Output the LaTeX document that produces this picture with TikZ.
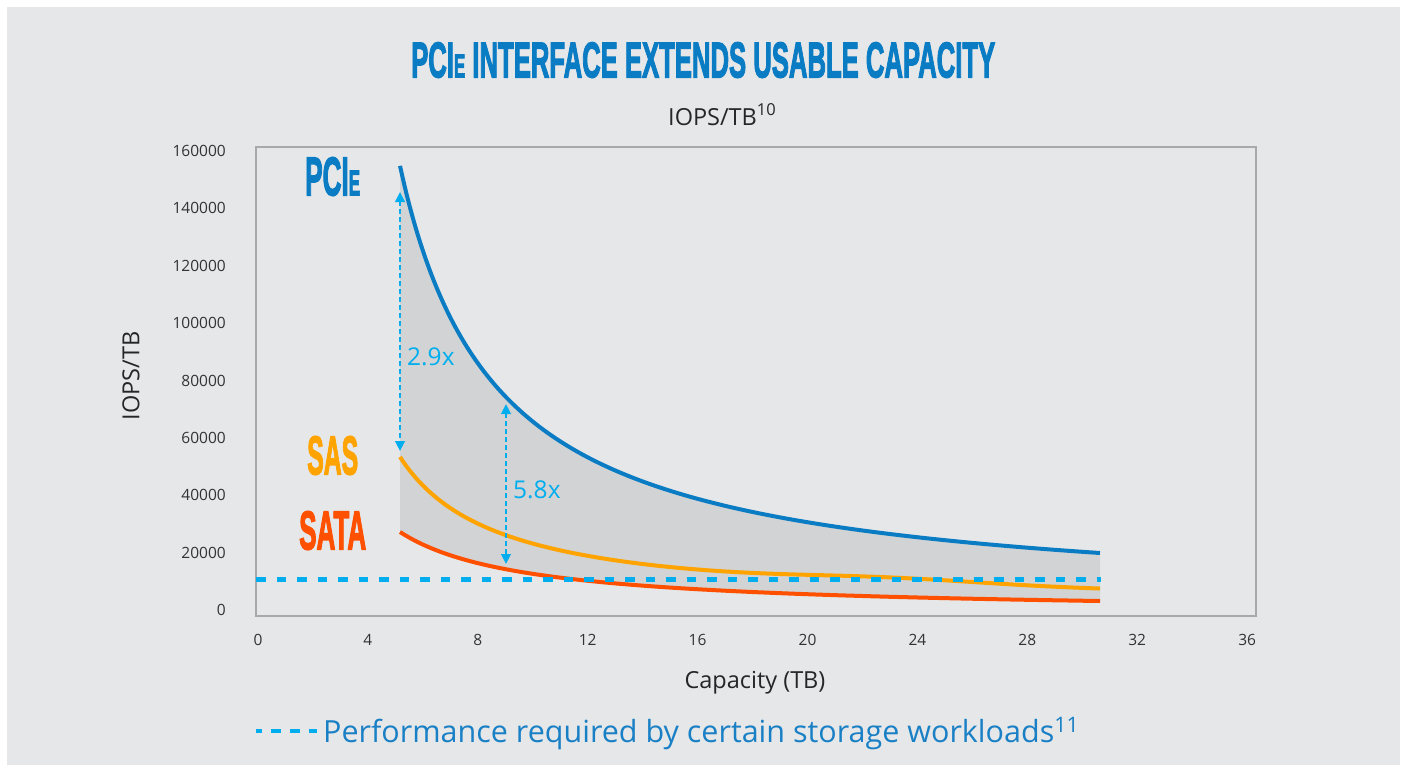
\documentclass[tikz,border=0pt]{standalone}
\usepackage{fontspec}
\setmainfont{Open Sans}
\newfontfamily\titlefont{Liberation Sans}[BoldFeatures={FakeBold=3}]
\usetikzlibrary{arrows.meta}
\definecolor{bg}{HTML}{E6E7E8}
\definecolor{framecol}{HTML}{A7A9AC}
\definecolor{pciecol}{HTML}{0A7CC4}
\definecolor{sascol}{HTML}{FFA300}
\definecolor{satacol}{HTML}{FF5000}
\definecolor{reqcol}{HTML}{00AEEF}
\definecolor{shadecol}{HTML}{D1D3D4}
\definecolor{tickcol}{HTML}{333333}
\definecolor{legcol}{HTML}{1A80C6}
\tikzset{
  declare function={
    capf(\t)=(\t-258)/27.47;
    pcief(\t)=613-1533.8/(capf(\t)-1.684)-7.05;
    sasf(\t)=613-536.6/(capf(\t)-1.604)-5.53-5*exp(-((capf(\t)-23)/5)^2);
    sataf(\t)=613-371.7/(capf(\t)-0.602)+0.37;
  },
  ticklabel/.style={font=\fontsize{15.5}{18}\selectfont, text=tickcol, inner sep=0pt},
  axistitle/.style={font=\fontsize{23.5}{28}\selectfont, text=black!85, inner sep=0pt},
  serieslabel/.style={inner sep=0pt, anchor=south west},
  curveline/.style={line width=4pt},
  reqline/.style={reqcol, line width=5pt, dash pattern=on 9.5pt off 11pt},
  legdash/.style={reqcol, line width=4.5pt, dash pattern=on 10pt off 9pt, dash phase=4pt},
  ratioarrow/.style={reqcol, line width=2.5pt, dash pattern=on 5pt off 3pt,
    {Triangle[width=9.5pt,length=10pt]}-{Triangle[width=9.5pt,length=10pt]}},
  ratiolabel/.style={font=\fontsize{24.5}{28}\selectfont, text=reqcol, inner sep=0pt, anchor=base west},
}
\begin{document}
\begin{tikzpicture}[x=1pt,y=-1pt]
\useasboundingbox (0,0) rectangle (1405,765);
\fill[white] (0,0) rectangle (1405,765);
\fill[bg] (7,7) rectangle (1400,765);

% title
\node[inner sep=0pt, anchor=south west, text=pciecol] (title) at (411,78)
  {\resizebox{584pt}{35pt}{\titlefont\bfseries PCI{\fontsize{6.6}{7}\selectfont E} INTERFACE EXTENDS USABLE CAPACITY}};
\node[axistitle, anchor=base west] (subtitle) at (668,125) {IOPS/TB\textsuperscript{10}};

% shaded area between PCIe and SATA
\fill[shadecol] plot[domain=400:1100, samples=141, variable=\t] ({\t},{pcief(\t)})
  -- plot[domain=1100:400, samples=141, variable=\t] ({\t},{sataf(\t)}) -- cycle;

% frame
\draw[framecol, line width=1.5pt] (256,147) rectangle (1256,616);

% y tick labels
\foreach \v [count=\i from 0] in {160000,140000,120000,100000,80000,60000,40000,20000,0}
  \node[ticklabel, anchor=east] (ytick\i) at (226,151+57.4*\i) {\v};
% x tick labels
\foreach \v [count=\i from 0] in {0,4,8,12,16,20,24,28,32,36}
  \node[ticklabel, anchor=center] (xtick\i) at (258+109.9*\i,640) {\v};

\node[axistitle, rotate=90, anchor=center] (ytitle) at (131,376) {IOPS/TB};
\node[axistitle, anchor=base] (xtitle) at (755,688) {Capacity (TB)};

% curves
\draw[curveline, sascol] plot[domain=400:1100, samples=141, smooth, variable=\t] ({\t},{sasf(\t)});
\draw[curveline, satacol] plot[domain=400:1100, samples=141, smooth, variable=\t] ({\t},{sataf(\t)});
\draw[curveline, pciecol] plot[domain=400:1100, samples=141, smooth, variable=\t] ({\t},{pcief(\t)});

% requirement line
\coordinate (reqA) at (256,579);
\coordinate (reqB) at (1101,579);
\draw[reqline] (reqA) -- (reqB);

% ratio arrows
\coordinate (r29top) at (400,192);
\coordinate (r29bot) at (400,451);
\coordinate (r58top) at (506,404);
\coordinate (r58bot) at (506,564);
\draw[ratioarrow] (r29top) -- (r29bot);
\draw[ratioarrow] (r58top) -- (r58bot);
\node[ratiolabel] (l29) at (407,365) {2.9x};
\node[ratiolabel] (l58) at (513,498) {5.8x};

% series labels
\node[serieslabel, text=pciecol] (lpcie) at (305,196)
  {\resizebox{55pt}{38pt}{\titlefont\bfseries PCI{\fontsize{6.6}{7}\selectfont E}}};
\node[serieslabel, text=sascol] (lsas) at (307,475)
  {\resizebox{51pt}{38pt}{\titlefont\bfseries SAS}};
\node[serieslabel, text=satacol] (lsata) at (299,550)
  {\resizebox{67pt}{38pt}{\titlefont\bfseries SATA}};

% legend
\coordinate (legA) at (256,731);
\coordinate (legB) at (317,731);
\draw[legdash] (legA) -- (legB);
\node[inner sep=0pt, anchor=base west, text=legcol, font=\fontsize{30.5}{34}\selectfont] (legtext) at (323,742)
  {Performance required by certain storage workloads\textsuperscript{11}};
\end{tikzpicture}
\end{document}
